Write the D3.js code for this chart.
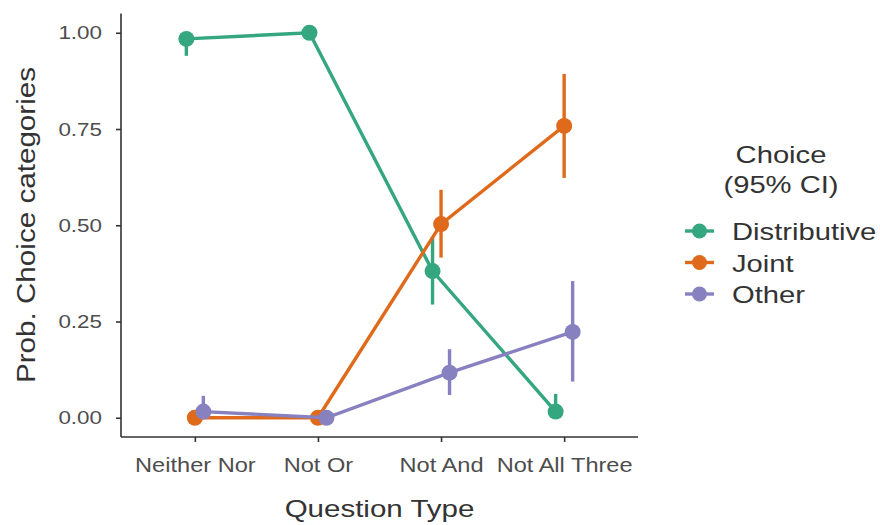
<!DOCTYPE html>
<html>
<head>
<meta charset="utf-8">
<script src="https://cdn.jsdelivr.net/npm/d3@7"></script>
<style>
  body { margin: 0; background: #fff; }
  text { font-family: "Liberation Sans", Arial, Helvetica, sans-serif; }
</style>
</head>
<body>
<svg id="chart" width="880" height="525"></svg>
<script>
// Question types on the x axis
const questionTypes = ["Neither Nor", "Not Or", "Not And", "Not All Three"];
// Choice categories (legend order)
const choices = ["Distributive", "Joint", "Other"];
const choiceColors = ["#34a780", "#df6a1b", "#8781c0"];

// Estimated probabilities per choice, one value per question type
const distributiveProb = [0.984, 1.000, 0.381, 0.016];
const distributiveLow  = [0.940, 1.000, 0.294, 0.000];
const distributiveHigh = [1.000, 1.000, 0.468, 0.062];

const jointProb = [0.000, 0.000, 0.503, 0.758];
const jointLow  = [0.000, 0.000, 0.416, 0.623];
const jointHigh = [0.000, 0.000, 0.592, 0.893];

const otherProb = [0.016, 0.000, 0.117, 0.223];
const otherLow  = [0.000, 0.000, 0.059, 0.094];
const otherHigh = [0.057, 0.000, 0.178, 0.355];

const yTicks = [0, 0.25, 0.5, 0.75, 1.0];

const seriesTable = [
  { name: choices[0], prob: distributiveProb, low: distributiveLow, high: distributiveHigh },
  { name: choices[1], prob: jointProb, low: jointLow, high: jointHigh },
  { name: choices[2], prob: otherProb, low: otherLow, high: otherHigh }
];

const svg = d3.select("#chart");
const plot = { left: 121, right: 638, top: 13.5, bottom: 437 };
const textColor = "#4d4d4d";
const titleColor = "#333333";
const axisColor = "#333333";
const tickStretch = 1.18;   // wide-set lettering for tick labels
const titleStretch = 1.25;  // wide-set lettering for titles and legend

// Discrete x positions with padding on both ends
const x = d3.scalePoint().domain(questionTypes)
  .range([plot.left, plot.right]).padding(0.6);
const dodge = d3.scalePoint().domain(choices).range([-8.5, 8.5]);
const y = d3.scaleLinear().domain([-0.05, 1.05]).range([plot.bottom, plot.top]);
const color = d3.scaleOrdinal().domain(choices).range(choiceColors);

// Axes
const xAxis = svg.append("g")
  .attr("transform", `translate(0,${plot.bottom})`)
  .call(d3.axisBottom(x).tickSize(5).tickPadding(16));
const yAxis = svg.append("g")
  .attr("transform", `translate(${plot.left},0)`)
  .call(d3.axisLeft(y).tickValues(yTicks).tickFormat(d3.format(".2f")).tickSize(5).tickPadding(13));

[xAxis, yAxis].forEach(g => {
  g.select(".domain").attr("stroke", axisColor).attr("stroke-width", 1.6);
  g.selectAll(".tick line").attr("stroke", axisColor).attr("stroke-width", 1.6);
  g.selectAll(".tick text").attr("fill", textColor);
});
xAxis.select(".domain").attr("d", `M${plot.left},0H${plot.right}`);
yAxis.select(".domain").attr("d", `M0,${plot.top}V${plot.bottom}`);

xAxis.selectAll(".tick text")
  .style("font-size", "20px")
  .attr("transform", `scale(${tickStretch},1)`);
yAxis.selectAll(".tick text")
  .style("font-size", "19px")
  .attr("x", -19 / tickStretch)
  .attr("transform", `scale(${tickStretch},1)`);

// Series: lines, error bars and points
const line = d3.line()
  .x(d => x(d.q) + dodge(d.name))
  .y(d => y(d.p));

seriesTable.forEach(s => {
  const pts = questionTypes.map((q, i) => ({
    q, name: s.name, p: s.prob[i], lo: s.low[i], hi: s.high[i]
  }));
  const g = svg.append("g");
  g.append("path").datum(pts)
    .attr("d", line)
    .attr("fill", "none")
    .attr("stroke", color(s.name))
    .attr("stroke-width", 3.4);
  g.selectAll("line.err").data(pts).join("line")
    .attr("class", "err")
    .attr("x1", d => x(d.q) + dodge(d.name))
    .attr("x2", d => x(d.q) + dodge(d.name))
    .attr("y1", d => y(d.lo))
    .attr("y2", d => y(d.hi))
    .attr("stroke", color(s.name))
    .attr("stroke-width", 3.4);
  g.selectAll("circle").data(pts).join("circle")
    .attr("cx", d => x(d.q) + dodge(d.name))
    .attr("cy", d => y(d.p))
    .attr("r", 8)
    .attr("fill", color(s.name));
});

// Places a wide-set label at (px, py), optionally rotated
function label(px, py, txt, size, opts = {}) {
  const g = svg.append("g")
    .attr("transform", `translate(${px},${py})` + (opts.rotate ? ` rotate(${opts.rotate})` : ""));
  return g.append("text")
    .attr("transform", `scale(${opts.stretch || titleStretch},1)`)
    .attr("text-anchor", opts.anchor || "middle")
    .attr("fill", opts.fill || titleColor)
    .style("font-size", size + "px")
    .text(txt);
}

// Axis titles
label((plot.left + plot.right) / 2, 517, "Question Type", 24, { stretch: 1.23 });
label(35, 225, "Prob. Choice categories", 25, { rotate: -90, stretch: 1.185 });

// Legend
label(781, 163, "Choice", 23, { stretch: 1.27 });
label(781, 193, "(95% CI)", 23, { stretch: 1.27 });

const keys = svg.selectAll("g.key").data(choices).join("g")
  .attr("class", "key")
  .attr("transform", (d, i) => `translate(685,${231 + i * 31.5})`);
keys.append("line")
  .attr("x1", 0).attr("x2", 29)
  .attr("stroke", d => color(d))
  .attr("stroke-width", 3.4);
keys.append("circle")
  .attr("cx", 14.5).attr("r", 7.5)
  .attr("fill", d => color(d));
keys.append("text")
  .attr("transform", `translate(47,9) scale(1.27,1)`)
  .attr("fill", titleColor)
  .style("font-size", "23px")
  .text(d => d);
</script>
</body>
</html>
